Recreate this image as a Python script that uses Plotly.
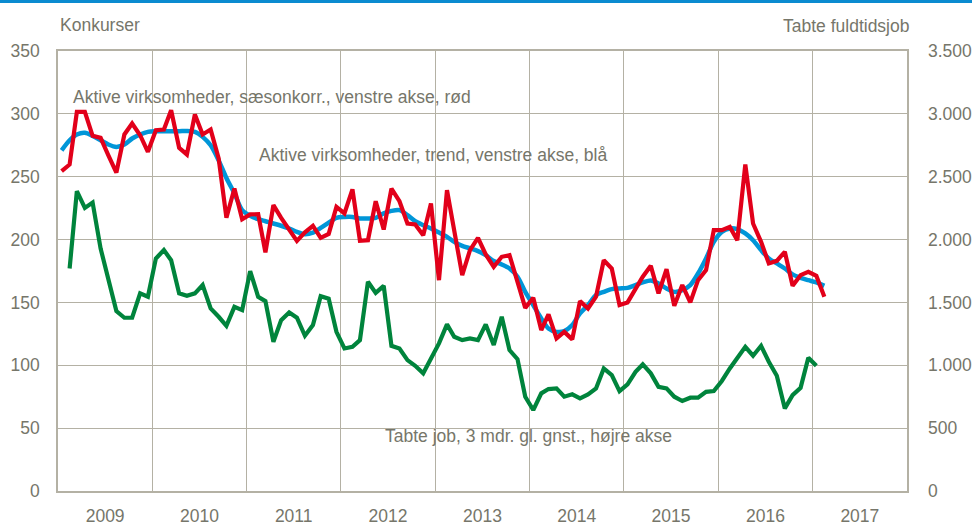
import plotly.graph_objects as go

# Monthly values
red_values = [254.4, 259.7, 301.5, 301.5, 282.5, 280.9, 267.0, 253.3, 283.6, 292.3, 283.0, 269.8,
              287.0, 287.5, 302.9, 273.0, 267.7, 299.5, 283.6, 287.5, 264.5, 217.3, 240.6, 216.2,
              220.0, 220.2, 189.8, 227.4, 217.3, 207.5, 199.0, 205.7, 210.9, 201.4, 204.5, 226.0,
              220.8, 240.0, 199.0, 199.5, 230.5, 208.0, 240.6, 230.5, 212.8, 212.0, 203.5, 228.7,
              167.7, 239.3, 205.6, 171.7, 191.6, 201.4, 188.2, 178.3, 186.3, 187.6, 166.4, 145.7,
              153.7, 128.0, 140.5, 121.4, 126.6, 120.6, 151.0, 145.2, 154.5, 183.6, 177.0, 147.9,
              150.0, 161.6, 170.4, 179.1, 157.2, 176.5, 147.3, 163.8, 150.0, 167.7, 175.7, 207.5,
              207.5, 210.1, 199.5, 259.7, 212.8, 198.2, 181.0, 183.1, 190.3, 163.2, 171.7, 174.3,
              171.2, 154.5]

blue_values = [271.0, 279.0, 283.6, 285.0, 282.5, 279.0, 275.6, 273.7, 275.6, 280.4, 283.6, 285.7,
               286.2, 286.2, 286.2, 286.2, 286.4, 285.7, 281.7, 275.0, 263.0, 249.0, 236.7, 223.4,
               218.9, 216.2, 214.6, 212.8, 211.0, 208.8, 206.1, 204.3, 205.6, 209.3, 213.5, 217.3,
               218.0, 218.0, 216.8, 216.8, 217.3, 220.8, 222.8, 223.4, 219.4, 214.6, 211.5, 208.8,
               205.6, 202.2, 198.2, 195.0, 193.0, 190.8, 187.6, 182.9, 180.2, 177.0, 170.4, 158.4,
               147.9, 137.3, 129.3, 126.6, 127.2, 132.0, 141.3, 147.9, 155.8, 158.4, 160.6, 161.1,
               161.6, 163.8, 165.9, 167.5, 165.1, 161.1, 158.4, 159.8, 163.8, 173.0, 185.0, 198.2,
               206.1, 208.8, 208.3, 204.9, 199.5, 191.6, 185.0, 181.0, 177.0, 172.3, 169.6, 167.7,
               165.9, 163.2]

# Tabte fuldtidsjob (right axis), Feb 2009 - Jan 2017
green_values = [1770, 2385, 2252, 2295, 1929, 1691, 1431, 1378, 1378, 1572, 1545,
                1850, 1916, 1836, 1572, 1553, 1572, 1638, 1452, 1386, 1314, 1465, 1439,
                1749, 1545, 1510, 1187, 1359, 1420, 1378, 1235, 1320, 1550, 1530, 1266,
                1134, 1147, 1200, 1664, 1576, 1632, 1155, 1134, 1041, 996, 936, 1055,
                1174, 1325, 1227, 1200, 1214, 1200, 1325, 1161, 1386, 1121, 1049, 750,
                644, 777, 811, 816, 750, 769, 737, 769, 816, 975, 922, 795,
                848, 948, 1007, 936, 829, 816, 750, 716, 742, 742, 789, 795,
                875, 975, 1060, 1147, 1076, 1155, 1028, 917, 657, 763, 821, 1060,
                996]

red_dates = [f"{2009 + n // 12}-{n % 12 + 1:02d}-15" for n in range(len(red_values))]
green_dates = [f"{2009 + n // 12}-{n % 12 + 1:02d}-15" for n in range(1, 1 + len(green_values))]

year_labels = ["2009", "2010", "2011", "2012", "2013", "2014", "2015", "2016", "2017"]

RED = "#E2001A"
BLUE = "#0096D8"
GREEN = "#00843C"
TXT = "#76766A"
GRID = "#B4B1A4"
FONT = "Liberation Sans, Arial, sans-serif"
FS = 17.5

fig = go.Figure()
fig.add_trace(go.Scatter(x=green_dates, y=green_values, mode="lines", yaxis="y2",
                         line=dict(color=GREEN, width=4.2), hoverinfo="skip"))
fig.add_trace(go.Scatter(x=red_dates, y=blue_values, mode="lines",
                         line=dict(color=BLUE, width=4.5, shape="spline", smoothing=0.8), hoverinfo="skip"))
fig.add_trace(go.Scatter(x=red_dates, y=red_values, mode="lines",
                         line=dict(color=RED, width=4.2), hoverinfo="skip"))

fig.update_layout(
    width=972, height=526,
    margin=dict(l=58, r=65, t=51, b=35, autoexpand=False),
    paper_bgcolor="white", plot_bgcolor="white",
    showlegend=False,
    separators=",.",
    font=dict(family=FONT, size=FS, color=TXT),
    xaxis=dict(
        type="date", range=["2009-01-01", "2018-01-01"],
        tick0="2009-01-01", dtick="M12", tickformat="%Y", ticklabelmode="period",
        showgrid=True, gridcolor=GRID, gridwidth=1,
        showline=True, linecolor=GRID, linewidth=1.5, mirror=True,
        ticks="", zeroline=False, ticklabelstandoff=8, automargin=False,
        tickfont=dict(family=FONT, size=FS, color=TXT),
    ),
    yaxis=dict(
        range=[0, 350], dtick=50, tick0=0,
        showgrid=True, gridcolor=GRID, gridwidth=1,
        showline=True, linecolor=GRID, linewidth=1.5, mirror=True,
        ticks="", zeroline=False, ticklabelstandoff=13, automargin=False,
        tickfont=dict(family=FONT, size=FS, color=TXT),
    ),
    yaxis2=dict(
        range=[0, 3500], dtick=500, tick0=0, overlaying="y", side="right",
        showgrid=False, zeroline=False, showline=False, ticks="",
        tickformat=",d", ticklabelstandoff=20, automargin=False,
        tickfont=dict(family=FONT, size=FS, color=TXT),
    ),
)

annots = [
    dict(text="Konkurser", x=0.0, y=1.059, xanchor="left"),
    dict(text="Tabte fuldtidsjob", x=1.0047, y=1.057, xanchor="right"),
    dict(text="Aktive virksomheder, sæsonkorr., venstre akse, rød", x=0.0153, y=0.895, xanchor="left"),
    dict(text="Aktive virksomheder, trend, venstre akse, blå", x=0.2344, y=0.764, xanchor="left"),
    dict(text="Tabte job, 3 mdr. gl. gnst., højre akse", x=0.3828, y=0.125, xanchor="left"),
]
for a in annots:
    fig.add_annotation(xref="paper", yref="paper", yanchor="middle", showarrow=False,
                       font=dict(family=FONT, size=FS, color=TXT), **a)

# thin blue strip across the top of the page
fig.add_shape(type="rect", xref="paper", yref="paper",
              x0=-58 / 849, x1=(972 - 58) / 849, y0=(491 - 3) / 440, y1=(491 + 51) / 440 + 0.1,
              fillcolor="#0A8BD0", line=dict(width=0), layer="above")

fig.write_html("out.html", config={"displayModeBar": False},
               post_script="document.body.style.margin='0';document.body.style.overflow='hidden';")
